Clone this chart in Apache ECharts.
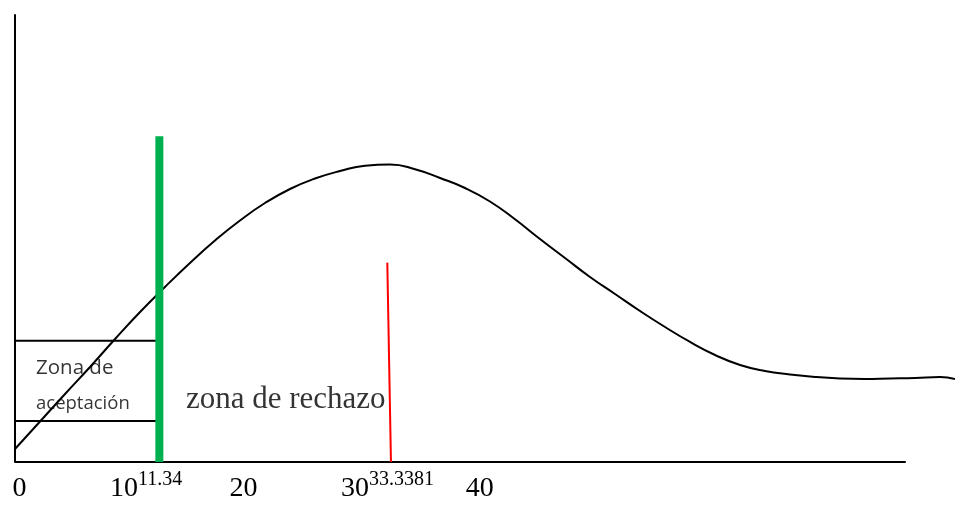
<!DOCTYPE html>
<html>
<head>
<meta charset="utf-8">
<script src="https://cdn.jsdelivr.net/npm/echarts@6/dist/echarts.min.js"></script>
<style>html,body{margin:0;padding:0;background:#fff}#c{width:955px;height:505px}</style>
</head>
<body>
<div id="c"></div>
<script>
// Curve (hand-drawn distribution) points
const curveX = [0, 2.19, 4.38, 6.57, 8.76, 10.95, 13.13, 15.32, 17.51, 19.70, 21.89, 24.08, 26.27, 28.46, 30.65, 32.84, 35.03, 37.22, 39.40, 41.59, 43.78, 45.97, 48.16, 50.35, 52.54, 54.73, 56.92, 59.11, 61.30, 63.49, 65.67, 67.86, 70.05, 72.24, 74.43, 76.62, 78.81, 81.00, 82.31];
const curveY = [2.91, 9.06, 15.21, 21.25, 27.52, 33.56, 39.15, 44.52, 49.55, 54.03, 57.94, 61.07, 63.42, 65.10, 66.30, 66.55, 65.50, 63.53, 61.30, 58.28, 54.30, 49.89, 45.64, 41.39, 37.58, 33.78, 30.20, 26.85, 23.94, 21.70, 20.36, 19.58, 19.02, 18.68, 18.57, 18.68, 18.79, 19.02, 18.57];
// Critical value line (green) and statistic line (red)
const greenX = [12.64, 12.64];
const greenY = [0, 72.9];
const redX = [32.92, 32.60];
const redY = [0, 44.6];
// Acceptance box horizontal lines
const boxX = [0, 12.64];
const boxTopY = 27.1;
const boxBottomY = 9.2;
// Drawn x-axis extent
const axisX = [0, 78];
// Tick labels
const tickValues = [0, 10, 20, 30, 40];
const tickSup = {10: '11.34', 30: '33.3381'};
// Text labels [x, y, text, style]
const zoneLabels = [
  [1.84, 20.9, 'Zona de', 'a'],
  [1.84, 13.1, 'aceptación', 'b'],
  [14.97, 13.8, 'zona de rechazo', 'c']
];

const zip = (xs, ys) => xs.map((x, i) => [x, ys[i]]);
const padKey = {0: 'p0', 10: 'p1', 20: '', 30: 'p3', 40: 'p4'};

const chart = echarts.init(document.getElementById('c'), null, {renderer: 'canvas'});
chart.setOption({
  animation: false,
  grid: {left: 15, right: 0, top: 15, bottom: 43, containLabel: false, outerBoundsMode: 'none'},
  xAxis: {
    type: 'value', min: 0, max: 82.31, interval: 10,
    axisLine: {show: false},
    axisTick: {show: false},
    splitLine: {show: false},
    axisLabel: {
      margin: 8,
      showMaxLabel: false,
      hideOverlap: false,
      formatter: function (v) {
        if (tickValues.indexOf(v) < 0) return '';
        let s = padKey[v] ? '{' + padKey[v] + '|}' : '';
        s += '{n|' + v + '}';
        if (tickSup[v]) s += '{s|' + tickSup[v] + '}';
        return s;
      },
      rich: {
        n: {fontFamily: 'Liberation Serif', fontSize: 28, color: '#000', lineHeight: 38, verticalAlign: 'middle'},
        s: {fontFamily: 'Liberation Serif', fontSize: 20, color: '#000', lineHeight: 20, verticalAlign: 'top'},
        p0: {width: 9}, p1: {width: 34}, p3: {width: 60}, p4: {width: 16}
      }
    }
  },
  yAxis: {
    type: 'value', min: 0, max: 100,
    axisLine: {show: true, lineStyle: {color: '#000', width: 2}},
    axisTick: {show: false},
    axisLabel: {show: false},
    splitLine: {show: false}
  },
  series: [
    {type: 'line', data: zip(axisX, [0, 0]), symbol: 'none', clip: false, lineStyle: {color: '#000', width: 2}, z: 2},
    {type: 'line', data: [[boxX[0], boxTopY], [boxX[1], boxTopY]], symbol: 'none', lineStyle: {color: '#000', width: 2}, z: 2},
    {type: 'line', data: [[boxX[0], boxBottomY], [boxX[1], boxBottomY]], symbol: 'none', lineStyle: {color: '#000', width: 2}, z: 2},
    {type: 'line', data: zip(curveX, curveY), symbol: 'none', smooth: 0.5, clip: false, lineStyle: {color: '#000', width: 2}, z: 3},
    {type: 'line', data: zip(greenX, greenY), symbol: 'none', lineStyle: {color: '#00b050', width: 8, cap: 'butt'}, z: 4},
    {type: 'line', data: zip(redX, redY), symbol: 'none', lineStyle: {color: '#ff0000', width: 2}, z: 4},
    {
      type: 'scatter', symbolSize: 0, z: 5,
      data: zoneLabels.map(d => ({value: [d[0], d[1]], name: d[2], style: d[3]})),
      label: {
        show: true, position: [0, 0], align: 'left', verticalAlign: 'middle', color: '#000',
        formatter: p => '{' + p.data.style + '|' + p.data.name + '}',
        rich: {
          a: {fontFamily: 'Open Sans', fontSize: 20.5, color: '#000'},
          b: {fontFamily: 'Open Sans', fontSize: 18.5, color: '#000'},
          c: {fontFamily: 'Liberation Serif', fontSize: 31, color: '#000'}
        }
      }
    }
  ]
});
</script>
</body>
</html>
